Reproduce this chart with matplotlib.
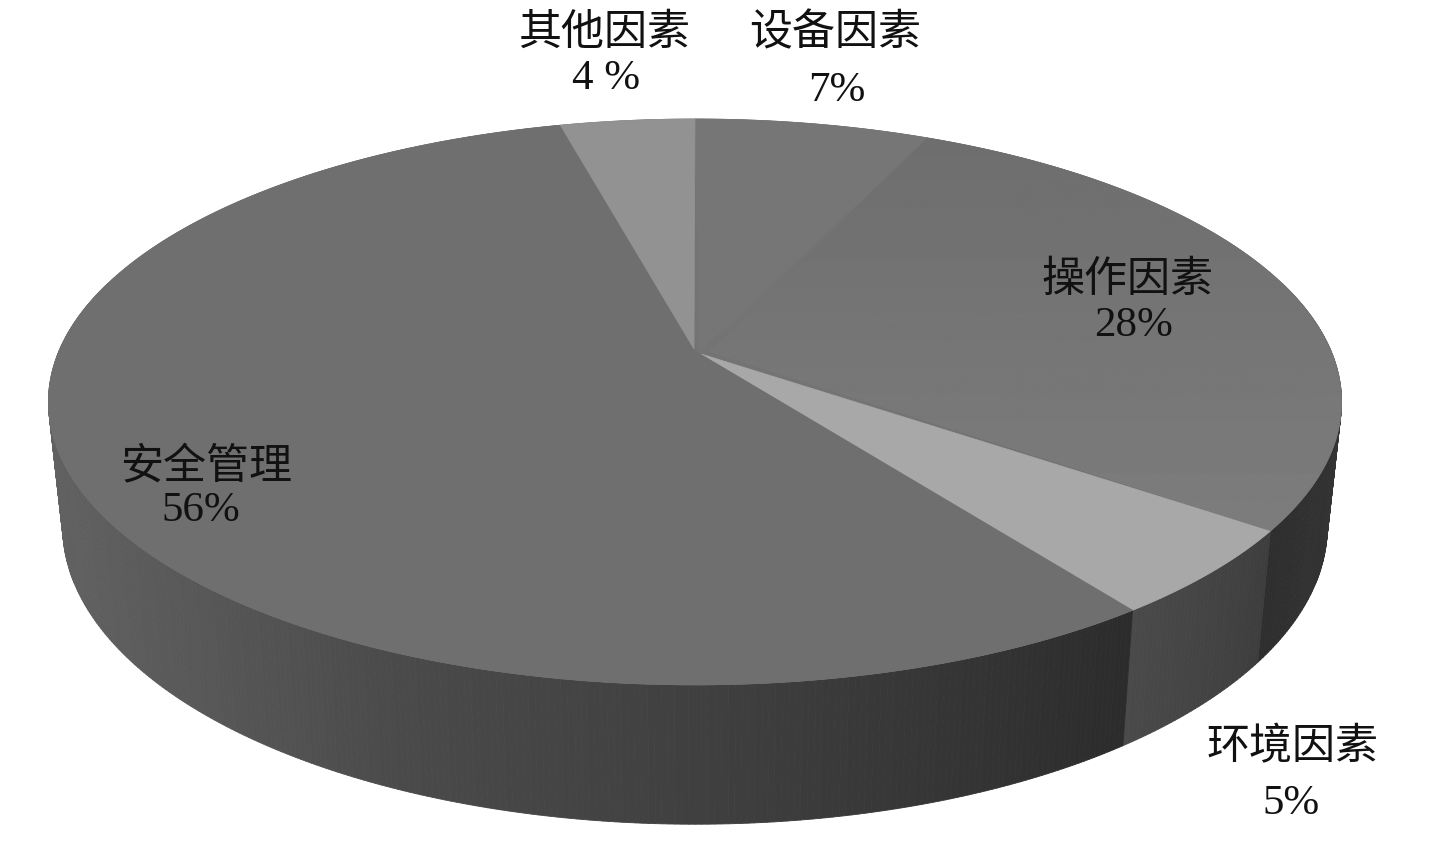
import numpy as np
import matplotlib
matplotlib.use('Agg')
import matplotlib.pyplot as plt
from matplotlib.collections import PolyCollection
from matplotlib.patches import Polygon

# 从设备因素开始，顺时针
labels = ['设备因素', '操作因素', '环境因素', '安全管理', '其他因素']
pct_text = ['7%', '28%', '5%', '56%', '4 %']
values = [7, 28, 5, 56, 4]

top_colors = ['#767676', '#727171', '#a8a8a8', '#706f6f', '#929292']
apex_shift = [(4, 1), (13, 1), (6, 3), (0, 0), (-1, -2)]

label_pos = [(835, 33), (1127, 280), (1292, 747), (206, 466), (604, 33)]
pct_pos = [(837, 91), (1134, 326), (1291, 804), (201, 511), (606, 79)]

# 侧面灰度，按横坐标取
wall_x = [50, 130, 400, 700, 1000, 1136]
wall_gray = [0.38, 0.36, 0.29, 0.25, 0.20, 0.17]
env_gray = (0.29, 0.24)
op_gray = (0.18, 0.24)

K = 0.18  # 透视


def rim(theta, cx, cy, a, b):
    x = np.sin(theta)
    y = np.cos(theta)
    w = 1 + K * y
    return cx + a * x / w, cy - b * y / w


def top_rim(theta):
    return rim(theta, 695, 352, 636, 273.8)


def bottom_rim(theta):
    return rim(theta, 695, 474, 622, 288)


fig = plt.figure(figsize=(14.5, 8.62), dpi=100)
ax = fig.add_axes([0, 0, 1, 1])
ax.set_xlim(0, 1450)
ax.set_ylim(862, 0)
ax.axis('off')

edges = np.cumsum([0] + values) / sum(values) * 2 * np.pi

# 侧面
t = np.linspace(np.radians(75), np.radians(285), 421)
x1, y1 = top_rim(t)
x2, y2 = bottom_rim(t)
quads = []
grays = []
for i in range(len(t) - 1):
    quads.append([(x1[i], y1[i]), (x1[i + 1], y1[i + 1]), (x2[i + 1], y2[i + 1]), (x2[i], y2[i])])
    mid = (t[i] + t[i + 1]) / 2
    xm = (x1[i] + x1[i + 1]) / 2
    if mid < edges[2]:
        frac = (edges[2] - mid) / (edges[2] - np.radians(75))
        g = op_gray[0] + (op_gray[1] - op_gray[0]) * frac
    elif mid < edges[3]:
        frac = (mid - edges[2]) / (edges[3] - edges[2])
        g = env_gray[1] + (env_gray[0] - env_gray[1]) * frac
    else:
        g = np.interp(xm, wall_x, wall_gray)
    grays.append((g, g, g))
ax.add_collection(PolyCollection(quads, facecolors=grays, edgecolors=grays, linewidths=0.6))

# 顶面，先铺底色，免得扇形尖端露白
tt = np.linspace(0, 2 * np.pi, 361)
rx, ry = top_rim(tt)
ax.add_patch(Polygon(list(zip(rx, ry)), closed=True, facecolor='#747474', edgecolor='#747474',
                     linewidth=0.5, zorder=2))

for i in range(len(values)):
    tt = np.linspace(edges[i], edges[i + 1], 120)
    rx, ry = top_rim(tt)
    dx, dy = apex_shift[i]
    pts = [(695 + dx, 352 + dy)] + list(zip(rx, ry))
    patch = Polygon(pts, closed=True, facecolor=top_colors[i],
                    edgecolor=top_colors[i], linewidth=0.5, zorder=3)
    ax.add_patch(patch)
    if labels[i] == '操作因素':
        # 操作因素这一块越靠近外缘越亮
        shade = np.linspace(0.43, 0.49, 256).reshape(-1, 1)
        im = ax.imshow(shade, cmap='gray', vmin=0, vmax=1, aspect='auto',
                       extent=(690, 1350, 540, 130), zorder=3.5)
        im.set_clip_path(patch)

ax.set_xlim(0, 1450)
ax.set_ylim(862, 0)

for name, p in zip(labels, label_pos):
    ax.text(p[0], p[1], name, fontsize=31, family='Noto Sans CJK SC', color='#111111',
            ha='center', va='center', zorder=5)
for name, p in zip(pct_text, pct_pos):
    ax.text(p[0], p[1], name, fontsize=31, family='Liberation Serif', color='#111111',
            ha='center', va='center', zorder=5)

fig.savefig('out.png', dpi=100, facecolor='white')
